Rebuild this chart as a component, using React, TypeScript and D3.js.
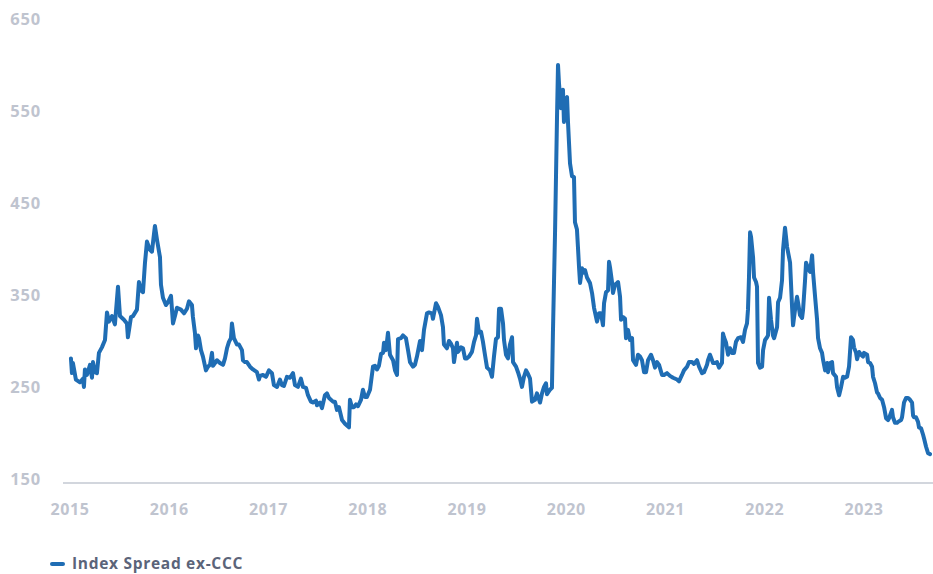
import React from "react";
import * as d3 from "d3";

// decimal-year dates of each observation
const dates: number[] = [
  2015.010, 2015.020, 2015.030, 2015.060, 2015.101, 2015.131, 2015.141, 2015.151, 2015.171, 2015.202,
  2015.222, 2015.232, 2015.252, 2015.272, 2015.292, 2015.322, 2015.353, 2015.373, 2015.393, 2015.423,
  2015.453, 2015.484, 2015.504, 2015.544, 2015.574, 2015.584, 2015.615, 2015.635, 2015.675, 2015.695,
  2015.715, 2015.736, 2015.756, 2015.776, 2015.806, 2015.826, 2015.856, 2015.877, 2015.907, 2015.917,
  2015.937, 2015.967, 2015.987, 2016.018, 2016.038, 2016.058, 2016.078, 2016.118, 2016.149, 2016.179,
  2016.199, 2016.229, 2016.239, 2016.259, 2016.270, 2016.290, 2016.300, 2016.320, 2016.340, 2016.370,
  2016.390, 2016.411, 2016.431, 2016.441, 2016.481, 2016.511, 2016.542, 2016.562, 2016.582, 2016.602,
  2016.622, 2016.632, 2016.652, 2016.683, 2016.703, 2016.733, 2016.743, 2016.763, 2016.783, 2016.814,
  2016.844, 2016.884, 2016.904, 2016.914, 2016.945, 2016.975, 2017.005, 2017.035, 2017.055, 2017.086,
  2017.116, 2017.136, 2017.156, 2017.186, 2017.217, 2017.247, 2017.267, 2017.297, 2017.327, 2017.348,
  2017.378, 2017.398, 2017.428, 2017.448, 2017.479, 2017.489, 2017.519, 2017.539, 2017.569, 2017.589,
  2017.610, 2017.650, 2017.670, 2017.690, 2017.710, 2017.741, 2017.771, 2017.811, 2017.821, 2017.841,
  2017.862, 2017.882, 2017.902, 2017.932, 2017.952, 2017.972, 2017.992, 2018.023, 2018.053, 2018.073,
  2018.093, 2018.113, 2018.134, 2018.154, 2018.164, 2018.184, 2018.204, 2018.224, 2018.255, 2018.275,
  2018.295, 2018.305, 2018.335, 2018.355, 2018.385, 2018.406, 2018.426, 2018.456, 2018.476, 2018.496,
  2018.527, 2018.547, 2018.567, 2018.597, 2018.617, 2018.647, 2018.657, 2018.688, 2018.708, 2018.738,
  2018.758, 2018.768, 2018.798, 2018.819, 2018.839, 2018.859, 2018.869, 2018.899, 2018.909, 2018.940,
  2018.960, 2018.980, 2019.000, 2019.020, 2019.050, 2019.071, 2019.091, 2019.101, 2019.121, 2019.141,
  2019.161, 2019.181, 2019.202, 2019.232, 2019.252, 2019.272, 2019.292, 2019.312, 2019.323, 2019.343,
  2019.363, 2019.373, 2019.393, 2019.413, 2019.433, 2019.454, 2019.464, 2019.494, 2019.514, 2019.534,
  2019.554, 2019.574, 2019.595, 2019.615, 2019.635, 2019.655, 2019.685, 2019.705, 2019.736, 2019.756,
  2019.776, 2019.796, 2019.806, 2019.836, 2019.856, 2019.866, 2019.887, 2019.907, 2019.917, 2019.927,
  2019.947, 2019.957, 2019.967, 2019.977, 2019.987, 2020.008, 2020.018, 2020.028, 2020.038, 2020.058,
  2020.078, 2020.088, 2020.108, 2020.118, 2020.129, 2020.139, 2020.159, 2020.169, 2020.189, 2020.209,
  2020.239, 2020.260, 2020.280, 2020.300, 2020.310, 2020.330, 2020.350, 2020.370, 2020.381, 2020.401,
  2020.421, 2020.431, 2020.441, 2020.461, 2020.471, 2020.491, 2020.512, 2020.522, 2020.542, 2020.552,
  2020.572, 2020.592, 2020.602, 2020.622, 2020.643, 2020.663, 2020.673, 2020.703, 2020.723, 2020.743,
  2020.763, 2020.784, 2020.804, 2020.824, 2020.854, 2020.874, 2020.894, 2020.915, 2020.935, 2020.965,
  2020.985, 2021.015, 2021.045, 2021.076, 2021.116, 2021.136, 2021.166, 2021.186, 2021.217, 2021.237,
  2021.267, 2021.287, 2021.317, 2021.338, 2021.368, 2021.388, 2021.418, 2021.428, 2021.448, 2021.479,
  2021.499, 2021.519, 2021.539, 2021.569, 2021.579, 2021.589, 2021.610, 2021.630, 2021.650, 2021.670,
  2021.690, 2021.710, 2021.731, 2021.761, 2021.781, 2021.801, 2021.821, 2021.831, 2021.841, 2021.852,
  2021.862, 2021.882, 2021.892, 2021.912, 2021.922, 2021.932, 2021.952, 2021.973, 2021.983, 2022.003,
  2022.023, 2022.033, 2022.043, 2022.063, 2022.083, 2022.094, 2022.124, 2022.134, 2022.154, 2022.174,
  2022.184, 2022.204, 2022.225, 2022.255, 2022.275, 2022.285, 2022.305, 2022.325, 2022.335, 2022.355,
  2022.376, 2022.386, 2022.406, 2022.416, 2022.436, 2022.456, 2022.477, 2022.487, 2022.507, 2022.527,
  2022.537, 2022.557, 2022.577, 2022.588, 2022.608, 2022.628, 2022.638, 2022.658, 2022.678, 2022.688,
  2022.718, 2022.728, 2022.749, 2022.769, 2022.789, 2022.809, 2022.829, 2022.849, 2022.869, 2022.889,
  2022.899, 2022.920, 2022.930, 2022.950, 2022.970, 2022.990, 2023.000, 2023.031, 2023.041, 2023.061,
  2023.081, 2023.091, 2023.111, 2023.131, 2023.141, 2023.162, 2023.182, 2023.202, 2023.222, 2023.242,
  2023.252, 2023.282, 2023.292, 2023.312, 2023.333, 2023.343, 2023.373, 2023.383, 2023.403, 2023.423,
  2023.444, 2023.464, 2023.484, 2023.494, 2023.504, 2023.524, 2023.544, 2023.554, 2023.575, 2023.595,
  2023.605, 2023.625, 2023.645, 2023.665,
];

// Index Spread ex-CCC (bps)
const spreads: number[] = [
  280, 264, 275, 257, 254, 258, 249, 268, 262, 273,
  259, 276, 265, 264, 286, 292, 300, 330, 320, 326,
  317, 358, 326, 322, 318, 303, 325, 326, 333, 363,
  354, 352, 384, 407, 398, 396, 424, 409, 390, 360,
  346, 338, 341, 348, 318, 326, 335, 333, 329, 334,
  342, 338, 325, 308, 291, 305, 302, 289, 282, 267,
  271, 273, 286, 272, 278, 275, 273, 280, 291, 298,
  302, 318, 302, 295, 295, 289, 278, 276, 276, 271,
  268, 265, 257, 261, 262, 260, 267, 264, 251, 249,
  257, 251, 250, 260, 259, 264, 251, 249, 258, 249,
  248, 240, 233, 232, 234, 229, 232, 226, 240, 242,
  237, 233, 233, 224, 227, 213, 209, 205, 235, 227,
  227, 230, 228, 235, 246, 238, 238, 246, 271, 272,
  268, 272, 285, 286, 297, 289, 308, 284, 278, 267,
  262, 301, 302, 305, 302, 289, 276, 271, 273, 282,
  299, 289, 311, 329, 330, 329, 323, 340, 336, 327,
  314, 295, 291, 299, 296, 291, 276, 297, 287, 292,
  291, 280, 280, 282, 287, 298, 305, 323, 308, 309,
  298, 284, 270, 267, 260, 282, 301, 303, 334, 334,
  318, 300, 284, 280, 295, 303, 276, 271, 265, 258,
  249, 260, 267, 263, 258, 233, 235, 242, 232, 242,
  249, 253, 241, 246, 248, 308, 416, 542, 599, 579,
  552, 570, 572, 537, 561, 564, 536, 514, 492, 478,
  477, 428, 420, 401, 379, 362, 378, 373, 376, 368,
  362, 351, 335, 325, 320, 329, 329, 316, 340, 352,
  354, 385, 379, 363, 351, 360, 362, 363, 347, 322,
  325, 323, 302, 311, 300, 302, 278, 273, 284, 282,
  278, 265, 265, 278, 284, 278, 270, 276, 273, 262,
  262, 264, 261, 259, 257, 255, 262, 267, 271, 276,
  276, 274, 278, 271, 264, 265, 273, 278, 284, 275,
  275, 276, 270, 275, 307, 303, 297, 284, 291, 286,
  286, 298, 302, 303, 298, 311, 318, 333, 368, 417,
  412, 390, 368, 363, 358, 275, 270, 271, 289, 300,
  303, 305, 346, 322, 305, 302, 314, 341, 346, 365,
  398, 422, 401, 384, 336, 316, 333, 347, 341, 327,
  324, 333, 365, 384, 378, 374, 392, 373, 347, 322,
  302, 291, 286, 278, 267, 275, 265, 275, 276, 264,
  260, 249, 240, 249, 260, 259, 260, 271, 303, 300,
  292, 286, 279, 287, 284, 282, 286, 284, 276, 275,
  271, 260, 253, 243, 242, 237, 235, 227, 215, 213,
  215, 224, 216, 210, 210, 211, 213, 216, 232, 237,
  237, 235, 232, 218, 216, 216, 211, 205, 204, 197,
  193, 184, 177, 176,
];

const yTicks: number[] = [150, 250, 350, 450, 550, 650];
const xTicks: number[] = [2015, 2016, 2017, 2018, 2019, 2020, 2021, 2022, 2023];
const seriesName = "Index Spread ex-CCC";

const W = 933;
const H = 574;
const LINE_COLOR = "#1f6db4";
const TICK_COLOR = "#bfc4cf";
const FONT = "'Open Sans', 'DejaVu Sans', sans-serif";

export default function App() {
  const x = d3.scaleLinear().domain([2014.93, 2023.7]).range([63, 933.5]);
  const y = d3.scaleLinear().domain([150, 650]).range([478, 18]);
  const pts = dates.map((d, i) => [d, spreads[i]] as [number, number]);
  const line = d3
    .line<[number, number]>()
    .x((d) => x(d[0]))
    .y((d) => y(d[1]));
  const axisY = y(150) + 5;

  return (
    <svg
      width={W}
      height={H}
      viewBox={`0 0 ${W} ${H}`}
      style={{ position: "absolute", left: 0, top: 0, background: "#fff" }}
      fontFamily={FONT}
    >
      <rect x={0} y={0} width={W} height={H} fill="#fff" />
      {yTicks.map((t) => (
        <text
          key={t}
          x={41}
          y={y(t)}
          textAnchor="end"
          dominantBaseline="central"
          fontSize={16.5}
          fontWeight={700}
          letterSpacing={0.8}
          fill={TICK_COLOR}
        >
          {t}
        </text>
      ))}
      <line x1={63} x2={933} y1={axisY} y2={axisY} stroke="#c3c8d2" strokeWidth={1.5} />
      {xTicks.map((t) => (
        <text
          key={t}
          x={x(t)}
          y={509}
          textAnchor="middle"
          dominantBaseline="central"
          fontSize={16}
          fontWeight={700}
          letterSpacing={0.6}
          fill={TICK_COLOR}
        >
          {t}
        </text>
      ))}
      <path
        d={line(pts) || ""}
        fill="none"
        stroke={LINE_COLOR}
        strokeWidth={4}
        strokeLinejoin="round"
        strokeLinecap="round"
      />
      <line x1={52} x2={63} y1={564} y2={564} stroke={LINE_COLOR} strokeWidth={4} strokeLinecap="round" />
      <text
        x={72}
        y={563}
        dominantBaseline="central"
        fontSize={15.5}
        fontWeight={700}
        letterSpacing={0.7}
        fill="#5b6479"
      >
        {seriesName}
      </text>
    </svg>
  );
}
